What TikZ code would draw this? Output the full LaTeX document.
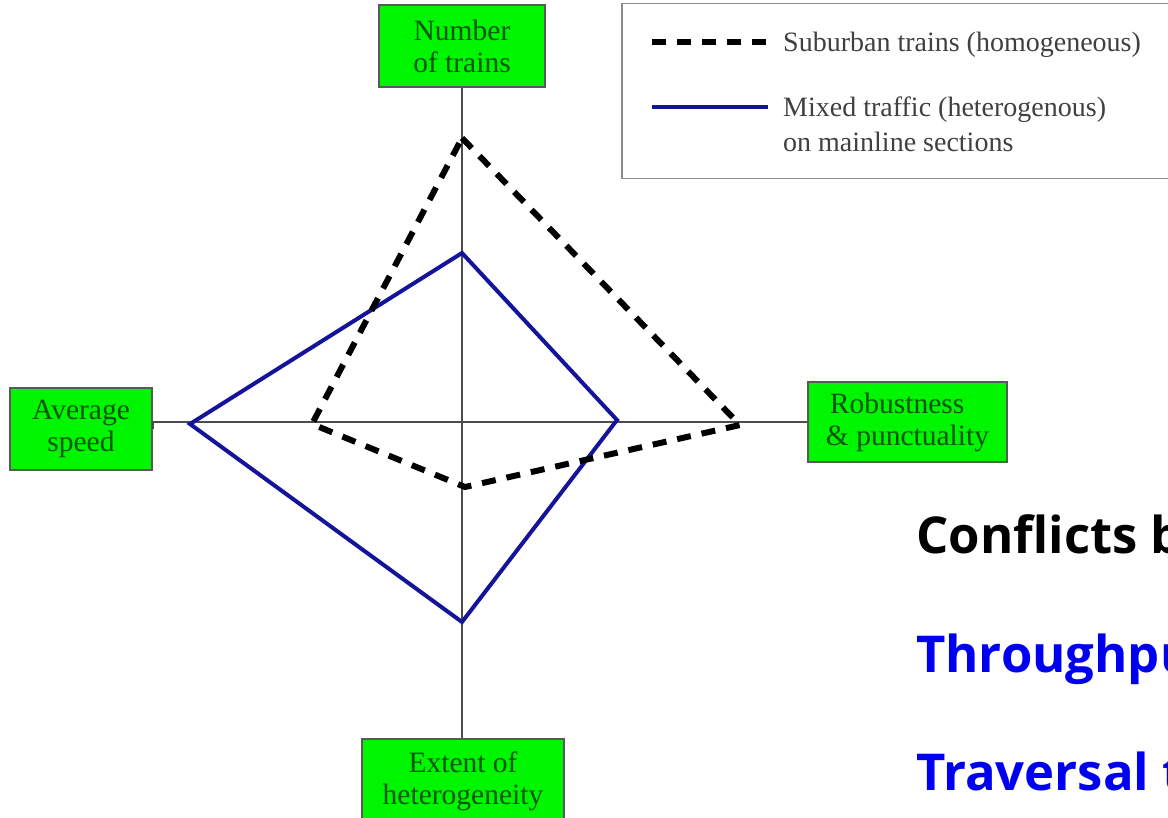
\documentclass[tikz,border=0pt]{standalone}
\usepackage{fontspec}
\setmainfont{Liberation Serif}
\newfontfamily\boldsans{Open Sans}
\begin{document}
\begin{tikzpicture}[x=1pt,y=-1pt,
  axisbox/.style={draw=black!65,line width=1.2pt,fill={rgb,255:red,0;green,245;blue,0},
    text={rgb,255:red,0;green,85;blue,0},align=center,inner sep=0pt,
    font=\fontsize{29.5}{32}\selectfont},
  axisline/.style={draw=black!70,line width=2pt},
  homog/.style={draw=black,line width=6pt,dash pattern=on 14pt off 11pt},
  heterog/.style={draw={rgb,255:red,20;green,20;blue,155},line width=4pt,line join=miter},
  legtext/.style={anchor=base west,text=black!75,font=\fontsize{28}{32}\selectfont,inner sep=0pt},
  bigtext/.style={anchor=base west,inner sep=0pt,font=\boldsans\bfseries\fontsize{50.8}{56}\selectfont}]
\useasboundingbox (0,0) rectangle (1168,818);
\clip (0,0) rectangle (1168,818);

% axis labels
\node[axisbox,minimum width=166pt,minimum height=82pt] (ntr) at (462,46) {Number\\of trains};
\node[axisbox,minimum width=142pt,minimum height=82pt] (spd) at (81,429) {Average\\speed};
\node[axisbox,minimum width=199pt,minimum height=80pt,align=left] (rob) at (907.5,422) {\hspace*{4pt}Robustness\\\& punctuality};
\node[axisbox,minimum width=202pt,minimum height=84pt] (het) at (463,781) {Extent of\\heterogeneity};

% axes
\draw[axisline] (ntr.south) -- (ntr.south |- het.north);
\draw[axisline] (spd.east) -- (spd.east |- rob.west) -- (rob.west);

% profile points
\coordinate (s1) at (462,138);
\coordinate (s2) at (740,425);
\coordinate (s3) at (465,487);
\coordinate (s4) at (312,424);
\coordinate (m1) at (462,253);
\coordinate (m2) at (617,420);
\coordinate (m3) at (462,622);
\coordinate (m4) at (190,424);

\draw[heterog] (m1) -- (m2) -- (m3) -- (m4) -- cycle;
\draw[homog] (s1) -- (s2) -- (s3) -- (s4) -- cycle;

% legend
\node[draw=black!45,line width=1.5pt,minimum width=580pt,minimum height=175pt,anchor=north west,inner sep=0pt] (leg) at (621,3) {};
\coordinate (la) at (652,42);
\coordinate (lb) at (770,42);
\coordinate (lc) at (652,107);
\coordinate (ld) at (768,107);
\draw[homog] (la) -- (lb);
\draw[heterog] (lc) -- (ld);
\node[legtext] (l1) at (783,52) {Suburban trains (homogeneous)};
\node[legtext] (l2) at (783,117) {Mixed traffic (heterogenous)};
\node[legtext] (l3) at (783,152) {on mainline sections};

% side notes
\node[bigtext,text=black] (t1) at (916,553) {Conflicts b};
\node[bigtext,text={rgb,255:red,0;green,0;blue,240}] (t2) at (916,672) {Throughpu};
\node[bigtext,text={rgb,255:red,0;green,0;blue,240}] (t3) at (916,790) {Traversal t};
\end{tikzpicture}
\end{document}
